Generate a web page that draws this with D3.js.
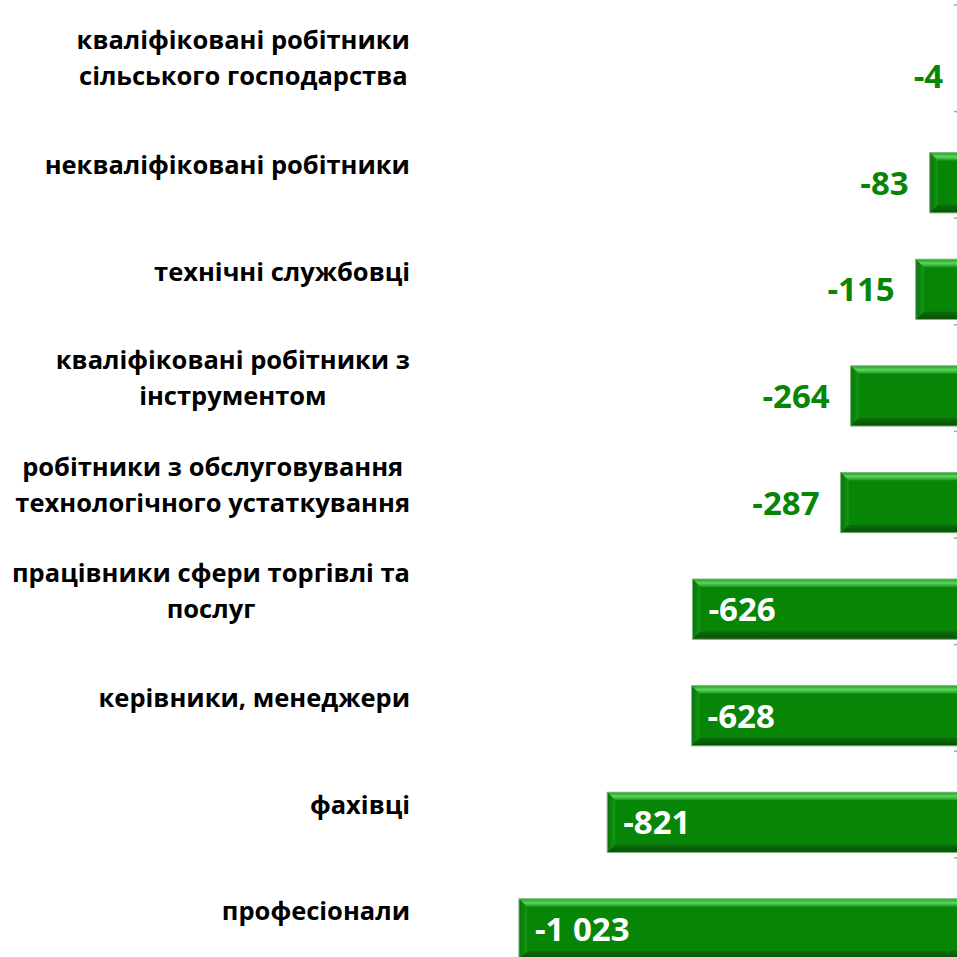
<!DOCTYPE html>
<html>
<head>
<meta charset="utf-8">
<script src="https://cdn.jsdelivr.net/npm/d3@7"></script>
<style>
  body { margin: 0; background: #fff; }
  svg { display: block; font-family: "Open Sans", sans-serif; }
</style>
</head>
<body>
<svg id="chart"></svg>
<script>
var width = 957, height = 957;

// categories (top to bottom), each label split into lines
var categories = [
  "кваліфіковані робітники сільського господарства",
  "некваліфіковані робітники",
  "технічні службовці",
  "кваліфіковані робітники з інструментом",
  "робітники з обслуговування технологічного устаткування",
  "працівники сфери торгівлі та послуг",
  "керівники, менеджери",
  "фахівці",
  "професіонали"
];
var labelLines = [
  ["кваліфіковані робітники", "сільського господарства"],
  ["некваліфіковані робітники"],
  ["технічні службовці"],
  ["кваліфіковані робітники з", "інструментом"],
  ["робітники з обслуговування", "технологічного устаткування"],
  ["працівники сфери торгівлі та", "послуг"],
  ["керівники, менеджери"],
  ["фахівці"],
  ["професіонали"]
];
var values = [-4, -83, -115, -264, -287, -626, -628, -821, -1023];

var zeroX = 966;
var svg = d3.select("#chart").attr("width", width).attr("height", height);

var x = d3.scaleLinear().domain([-1100, 0]).range([zeroX - 1100 * 0.437, zeroX]);
var y = d3.scaleBand().domain(categories).range([5, 5 + 9 * 106.6]);
var bw = y.bandwidth();

var data = categories.map((c, i) => ({cat: c, value: values[i], lines: labelLines[i]}));

// gradients for bevel
var defs = svg.append("defs");
var gTop = defs.append("linearGradient").attr("id", "gTop").attr("x1", 0).attr("y1", 0).attr("x2", 0).attr("y2", 1);
gTop.append("stop").attr("offset", "0%").attr("stop-color", "#1f9e1f");
gTop.append("stop").attr("offset", "50%").attr("stop-color", "#5cd65c");
gTop.append("stop").attr("offset", "100%").attr("stop-color", "#1b951b");
var gBot = defs.append("linearGradient").attr("id", "gBot").attr("x1", 0).attr("y1", 0).attr("x2", 0).attr("y2", 1);
gBot.append("stop").attr("offset", "0%").attr("stop-color", "#0b6d0b");
gBot.append("stop").attr("offset", "100%").attr("stop-color", "#0a4f0a");
var gLeft = defs.append("linearGradient").attr("id", "gLeft").attr("x1", 0).attr("y1", 0).attr("x2", 1).attr("y2", 0);
gLeft.append("stop").attr("offset", "0%").attr("stop-color", "#0c6f0c");
gLeft.append("stop").attr("offset", "100%").attr("stop-color", "#119a11");

// axis ticks at band boundaries
var tickYs = categories.map(c => y(c)).concat([y.range()[1]]);
svg.append("g").selectAll("line").data(tickYs).enter().append("line")
  .attr("x1", zeroX - 12).attr("x2", zeroX)
  .attr("y1", d => d).attr("y2", d => d)
  .attr("stroke", "#a6a6a6").attr("stroke-width", 1.5);

// bars
var b = 8;
var bars = svg.append("g").selectAll("g").data(data).enter().append("g");
bars.each(function(d) {
  var g = d3.select(this);
  var x0 = x(d.value), x1 = x(0);
  var y0 = y(d.cat) + bw * 0.385, y1 = y0 + bw * 0.565;
  var bb = Math.min(b, (x1 - x0) / 2);
  g.append("rect").attr("x", x0).attr("y", y0).attr("width", x1 - x0).attr("height", y1 - y0)
    .attr("fill", "#078507");
  g.append("path").attr("d", `M${x0},${y0}L${x1},${y0}L${x1},${y0 + b}L${x0 + bb},${y0 + b}Z`).attr("fill", "url(#gTop)");
  g.append("path").attr("d", `M${x0},${y1}L${x1},${y1}L${x1},${y1 - b}L${x0 + bb},${y1 - b}Z`).attr("fill", "url(#gBot)");
  g.append("path").attr("d", `M${x0},${y0}L${x0 + bb},${y0 + b}L${x0 + bb},${y1 - b}L${x0},${y1}Z`).attr("fill", "url(#gLeft)");
  g.append("rect").attr("x", x0).attr("y", y0).attr("width", x1 - x0).attr("height", y1 - y0)
    .attr("fill", "none").attr("stroke", "#7fb87f").attr("stroke-width", 1);
});

// value labels
var fmt = v => (v < 0 ? "-" : "") + d3.format(",")(Math.abs(v)).replace(/,/g, " ");
svg.append("g").selectAll("text").data(data).enter().append("text")
  .attr("x", d => Math.abs(d.value) > 500 ? x(d.value) + 16 : x(d.value) - 21)
  .attr("y", d => y(d.cat) + bw * 0.385 + bw * 0.565 / 2 + 12)
  .attr("text-anchor", d => Math.abs(d.value) > 500 ? "start" : "end")
  .attr("fill", d => Math.abs(d.value) > 500 ? "#ffffff" : "#078507")
  .attr("font-size", 33).attr("font-weight", 700)
  .text(d => fmt(d.value));

// category labels: block right-aligned at 410, lines centered in block
var lineH = 36;
var labels = svg.append("g").selectAll("text").data(data).enter().append("text")
  .attr("font-size", 25.5).attr("font-weight", 700).attr("fill", "#000")
  .attr("text-anchor", "middle");
labels.each(function(d) {
  var t = d3.select(this);
  var n = d.lines.length;
  var cy = y(d.cat) + bw / 2;
  d.lines.forEach((ln, i) => {
    t.append("tspan").attr("y", cy + (i - (n - 1) / 2) * lineH + 9).text(ln);
  });
  var maxW = 0;
  t.selectAll("tspan").each(function() { maxW = Math.max(maxW, this.getComputedTextLength()); });
  t.selectAll("tspan").attr("x", 410 - maxW / 2);
});
</script>
</body>
</html>
